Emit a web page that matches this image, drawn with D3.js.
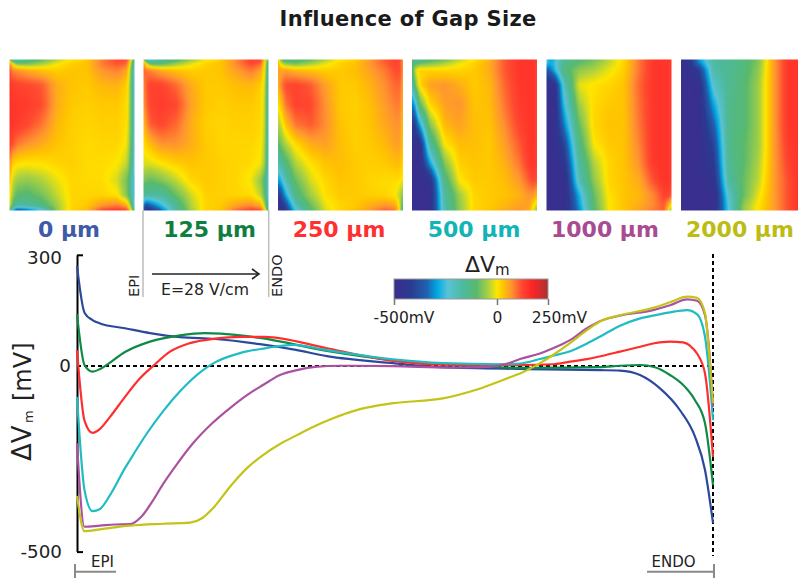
<!DOCTYPE html>
<html>
<head>
<meta charset="utf-8">
<script src="https://cdn.jsdelivr.net/npm/d3@7"></script>
<style>
  html, body { margin: 0; padding: 0; background: #fff; overflow: hidden; }
  svg { display: block; font-family: "DejaVu Sans", sans-serif; }
</style>
</head>
<body>
<div id="chart"></div>
<script>
// gap sizes and their label / curve colours
const gapLabels = ["0 µm", "125 µm", "250 µm", "500 µm", "1000 µm", "2000 µm"];
const labelColors = ["#3d5ba6", "#0e7f41", "#ff3030", "#12b5b5", "#a84b92", "#bcbc12"];
const curveColors = ["#2c4a9c", "#0f8a45", "#ff2e2e", "#1fbcc2", "#aa52a0", "#c3c318"];

// depth through the wall (0 = EPI, 636 = ENDO) and delta Vm in mV, per curve
const depth0 = [0, 7.5, 15.5, 23, 48, 73, 103, 138, 183, 216, 250, 316, 366, 450, 523, 543, 563, 583, 603, 618, 628, 636];
const vm0 = [270, 144, 124, 115, 102, 89, 78, 73, 59, 45, 27, 8, -3, -8, -11, -12, -24, -60, -119, -190, -280, -423];
const depth125 = [0, 7.5, 15.5, 23, 28, 48, 73, 103, 128, 163, 183, 250, 316, 366, 450, 523, 543, 563, 578, 593, 608, 618, 628, 636];
const vm125 = [140, 3, -15, -8, 0, 38, 66, 83, 89, 83, 76, 41, 16, 5, -5, -3, 1, 3, -3, -24, -56, -92, -154, -321];
const depth250 = [0, 7.5, 15.5, 23, 33, 48, 63, 76, 93, 113, 138, 163, 188, 250, 316, 366, 443, 476, 493, 510, 526, 543, 560, 576, 593, 606, 613, 620, 628, 636];
const vm250 = [43, -147, -180, -169, -137, -83, -33, 0, 39, 62, 74, 79, 79, 48, 14, 4, 3, 5, 12, 19, 28, 39, 50, 61, 66, 64, 55, 34, -20, -245];
const depth500 = [0, 7.5, 15.5, 23, 33, 48, 53, 70, 86, 103, 126, 138, 163, 188, 216, 250, 316, 366, 423, 443, 463, 476, 493, 510, 526, 543, 560, 576, 593, 610, 620, 628, 632, 636];
const vm500 = [-83, -334, -391, -385, -348, -275, -253, -181, -122, -68, -11, 10, 35, 48, 57, 43, 18, 8, 5, 7, 19, 28, 40, 61, 84, 109, 126, 136, 145, 151, 140, 79, -15, -146];
const depth1000 = [0, 7.5, 23, 38, 53, 65, 76, 86, 100, 116, 136, 153, 170, 186, 203, 220, 238, 263, 316, 373, 403, 423, 433, 443, 463, 476, 493, 510, 526, 543, 576, 593, 610, 620, 628, 632, 636];
const vm1000 = [-208, -433, -430, -427, -426, -404, -362, -318, -264, -208, -152, -113, -78, -51, -24, -11, -2, 1, 0, -4, -3, 2, 9, 19, 34, 48, 70, 102, 124, 136, 151, 164, 180, 176, 137, 48, -110];
const depth2000 = [0, 7.5, 23, 53, 86, 113, 125, 136, 153, 170, 186, 203, 220, 236, 253, 283, 316, 366, 400, 433, 443, 463, 476, 493, 510, 526, 543, 576, 593, 610, 620, 628, 632, 636];
const vm2000 = [-350, -445, -440, -430, -425, -422, -410, -383, -325, -275, -240, -210, -186, -164, -144, -116, -100, -87, -63, -30, -20, 8, 30, 62, 97, 124, 137, 157, 172, 187, 184, 143, 39, -100];

// heatmap sample positions (fraction of panel width / height)
const gridCols = [0, .02, .06, .14, .26, .38, .5, .62, .74, .86, .94, .98, 1];
const gridRows = [0, .02, .07, .17, .3, .43, .56, .69, .8, .9, .97, 1];

// delta Vm (mV) maps
const map0 = [
  [50, -300, -250, -150, -100, -50, 0, 25, 80, 120, 120, 0, -200],
  [100, 0, -100, -100, -60, -10, 20, 30, 90, 120, 110, -60, -280],
  [130, 80, 70, 50, 30, 20, 30, 30, 70, 85, 60, -100, -300],
  [150, 140, 130, 125, 110, 50, 30, 25, 40, 45, 20, -100, -300],
  [150, 150, 145, 140, 120, 50, 25, 20, 25, 25, 10, -100, -300],
  [150, 150, 140, 125, 90, 40, 20, 15, 20, 20, 5, -100, -300],
  [140, 120, 90, 70, 50, 30, 20, 10, 15, 15, -5, -110, -300],
  [100, 20, 5, 0, 5, 15, 20, 10, 10, 0, -30, -130, -300],
  [60, -20, -50, -60, -40, -10, 15, 10, 10, -20, -80, -170, -320],
  [40, -50, -100, -110, -80, -30, 15, 15, 15, 5, -70, -170, -330],
  [20, -100, -170, -170, -130, -50, 15, 25, 70, 90, 60, -100, -300],
  [50, -300, -400, -360, -260, -60, 20, 40, 130, 150, 130, 0, -200]
];
const map125 = [
  [50, -300, -250, -170, -130, -70, -10, 20, 70, 130, 130, 0, -100],
  [100, -30, -130, -130, -70, -20, 15, 30, 80, 130, 110, -30, -200],
  [110, 90, 80, 50, 30, 20, 25, 30, 60, 90, 60, -30, -250],
  [60, 110, 130, 130, 100, 50, 25, 25, 35, 40, 20, -40, -260],
  [50, 100, 130, 140, 125, 60, 25, 20, 25, 25, 15, -50, -270],
  [20, 70, 110, 125, 100, 50, 20, 15, 20, 20, 10, -50, -270],
  [0, 20, 40, 70, 70, 50, 25, 15, 15, 15, 5, -60, -270],
  [-10, -20, -15, 0, 20, 30, 25, 20, 15, 10, -5, -70, -270],
  [-70, -80, -90, -70, -30, 15, 25, 20, 15, -5, -60, -130, -280],
  [-150, -170, -170, -170, -90, -25, 20, 20, 15, 10, -30, -120, -290],
  [-300, -400, -350, -270, -150, -40, 15, 25, 60, 80, 50, -70, -250],
  [-350, -470, -450, -350, -170, -50, 20, 30, 100, 140, 130, 0, -200]
];
const map250 = [
  [80, -100, -150, -120, -100, -50, 0, 20, 60, 110, 130, 120, 50],
  [60, -20, -80, -100, -60, -15, 15, 30, 70, 110, 130, 120, 40],
  [70, 50, 60, 40, 30, 20, 25, 35, 60, 90, 120, 120, 50],
  [30, 80, 120, 130, 110, 60, 25, 25, 45, 75, 100, 100, 40],
  [0, 20, 90, 130, 125, 70, 25, 20, 35, 65, 85, 85, 30],
  [-40, -30, 30, 90, 110, 75, 30, 20, 30, 55, 70, 70, 20],
  [-100, -80, -40, 10, 50, 60, 35, 20, 25, 40, 60, 60, 15],
  [-200, -170, -120, -40, 5, 30, 35, 25, 20, 25, 35, 35, 5],
  [-300, -280, -190, -90, -20, 15, 30, 25, 15, 10, 10, 5, -10],
  [-430, -400, -290, -130, -50, 5, 25, 25, 20, 15, 0, -40, -80],
  [-480, -470, -400, -200, -90, -10, 15, 25, 50, 70, 60, -30, -150],
  [-490, -480, -430, -260, -110, -20, 20, 35, 70, 110, 90, -20, -200]
];
const map500 = [
  [-100, -200, -180, -120, -90, -40, 5, 40, 110, 150, 150, 150, 120],
  [-120, -120, -100, -80, -50, -10, 15, 50, 110, 150, 150, 150, 120],
  [-150, -30, 20, 15, 15, 15, 25, 50, 110, 150, 150, 150, 120],
  [-230, -100, 10, 60, 70, 50, 25, 40, 100, 145, 150, 150, 120],
  [-330, -300, -100, 10, 60, 70, 30, 35, 90, 140, 150, 150, 120],
  [-420, -420, -290, -70, 40, 60, 35, 30, 75, 130, 150, 150, 120],
  [-480, -480, -470, -170, 0, 35, 35, 25, 60, 110, 150, 150, 120],
  [-490, -490, -490, -300, -70, 20, 30, 25, 45, 90, 140, 150, 120],
  [-490, -490, -490, -470, -130, 0, 25, 25, 35, 65, 110, 130, 100],
  [-490, -490, -490, -490, -170, -50, 15, 25, 30, 45, 70, 60, 30],
  [-490, -490, -490, -490, -180, -60, 15, 25, 40, 60, 60, -10, -30],
  [-490, -490, -490, -490, -190, -60, 15, 30, 50, 70, 50, -30, -80]
];
const map1000 = [
  [-200, -300, -280, -150, -100, -80, -30, 15, 90, 150, 150, 150, 130],
  [-220, -280, -260, -140, -100, -70, -30, 15, 90, 150, 150, 150, 130],
  [-350, -350, -280, -120, -60, -40, -10, 20, 90, 150, 150, 150, 130],
  [-480, -480, -480, -210, -10, 5, 15, 30, 100, 150, 150, 150, 130],
  [-490, -490, -490, -260, -50, 10, 25, 30, 95, 150, 150, 150, 130],
  [-490, -490, -490, -320, -90, 15, 30, 30, 90, 150, 150, 150, 130],
  [-490, -490, -490, -400, -130, 0, 25, 30, 80, 150, 150, 150, 130],
  [-490, -490, -490, -450, -170, -40, 15, 30, 70, 145, 150, 150, 130],
  [-490, -490, -490, -490, -200, -60, 15, 30, 50, 120, 150, 150, 130],
  [-490, -490, -490, -490, -280, -90, 5, 30, 40, 80, 130, 130, 100],
  [-490, -490, -490, -490, -300, -100, 0, 30, 50, 80, 110, 40, -40],
  [-490, -490, -490, -490, -320, -110, 0, 30, 60, 90, 110, 0, -100]
];
const map2000 = [
  [-400, -480, -450, -300, -170, -150, -120, -70, 60, 150, 150, 150, 150],
  [-420, -480, -460, -320, -170, -150, -120, -70, 60, 150, 150, 150, 150],
  [-490, -490, -480, -420, -180, -150, -120, -60, 60, 150, 150, 150, 150],
  [-490, -490, -490, -480, -220, -150, -110, -50, 60, 150, 150, 150, 150],
  [-490, -490, -490, -490, -290, -140, -110, -50, 60, 150, 150, 150, 150],
  [-490, -490, -490, -490, -350, -140, -110, -50, 60, 150, 150, 150, 150],
  [-490, -490, -490, -490, -400, -140, -100, -50, 60, 140, 150, 150, 150],
  [-490, -490, -490, -490, -430, -150, -100, -40, 60, 130, 150, 150, 150],
  [-490, -490, -490, -490, -460, -170, -90, -30, 60, 120, 150, 150, 150],
  [-490, -490, -490, -490, -490, -220, -90, -10, 60, 120, 150, 150, 150],
  [-490, -490, -490, -490, -490, -240, -60, 5, 60, 120, 150, 150, 150],
  [-490, -490, -490, -490, -490, -240, -60, 5, 60, 120, 150, 150, 150]
];

const yTicks = [300, 0, -500];
const barTicks = [-500, 0, 250];
const barTickLabels = ["-500mV", "0", "250mV"];

// colour map of the colour bar
const colorStops = [-500, -420, -340, -290, -240, -160, -100, -40, 0, 30, 70, 120, 170, 210, 250];
const colorRange = ["#3a2d8e", "#2b3a90", "#1f62b0", "#00a8e2", "#58c3d8", "#4db99a", "#58b96e", "#aed23e", "#ffe600", "#ffc400", "#ff9530", "#ff4a30", "#ff2626", "#d82a2a", "#a83232"];
const vmColor = d3.scaleLinear().domain(colorStops).range(colorRange).clamp(true);

const width = 798, height = 578;
const svg = d3.select("#chart").append("svg")
  .attr("width", width).attr("height", height)
  .attr("viewBox", `0 0 ${width} ${height}`);

svg.append("text").attr("x", 408).attr("y", 26)
  .attr("text-anchor", "middle")
  .attr("font-size", 21).attr("font-weight", "bold").attr("letter-spacing", 0.3).attr("fill", "#1a1a1a")
  .text("Influence of Gap Size");

// 1. heatmap panels
const panelW = 125, panelH = 151, panelY = 59.5;
const panelX = [9.5, 143.5, 278, 412, 546.5, 681];
const labelX = [69, 209.5, 339, 474, 605, 740];
const maps = [map0, map125, map250, map500, map1000, map2000];

function renderMap(grid) {
  const colIdx = d3.scaleLinear().domain(gridCols).range(d3.range(gridCols.length));
  const rowIdx = d3.scaleLinear().domain(gridRows).range(d3.range(gridRows.length));
  const w = panelW, h = panelH;
  let field = new Float32Array(w * h);
  for (let j = 0; j < h; j++) {
    const r = rowIdx((j + .5) / h), r0 = Math.min(Math.floor(r), gridRows.length - 2), fr = r - r0;
    for (let i = 0; i < w; i++) {
      const c = colIdx((i + .5) / w), c0 = Math.min(Math.floor(c), gridCols.length - 2), fc = c - c0;
      field[j * w + i] = (grid[r0][c0] * (1 - fc) + grid[r0][c0 + 1] * fc) * (1 - fr)
        + (grid[r0 + 1][c0] * (1 - fc) + grid[r0 + 1][c0 + 1] * fc) * fr;
    }
  }
  // soften the grid facets
  for (let pass = 0; pass < 2; pass++) {
    const next = new Float32Array(w * h);
    for (let j = 0; j < h; j++) {
      for (let i = 0; i < w; i++) {
        let sum = 0;
        for (let dj = -1; dj <= 1; dj++) {
          for (let di = -1; di <= 1; di++) {
            const jj = Math.max(0, Math.min(h - 1, j + dj)), ii = Math.max(0, Math.min(w - 1, i + di));
            sum += field[jj * w + ii];
          }
        }
        next[j * w + i] = sum / 9;
      }
    }
    field = next;
  }
  const canvas = document.createElement("canvas");
  canvas.width = w; canvas.height = h;
  const ctx = canvas.getContext("2d");
  const img = ctx.createImageData(w, h);
  field.forEach((v, k) => {
    const col = d3.rgb(vmColor(v));
    img.data[k * 4] = col.r; img.data[k * 4 + 1] = col.g; img.data[k * 4 + 2] = col.b; img.data[k * 4 + 3] = 255;
  });
  ctx.putImageData(img, 0, 0);
  return canvas.toDataURL();
}

svg.append("g").selectAll("image").data(maps).enter().append("image")
  .attr("x", (d, i) => panelX[i]).attr("y", panelY)
  .attr("width", panelW).attr("height", panelH)
  .attr("href", d => renderMap(d));

svg.append("g").selectAll("text").data(gapLabels).enter().append("text")
  .attr("x", (d, i) => labelX[i]).attr("y", 237)
  .attr("text-anchor", "middle")
  .attr("font-size", 22).attr("font-weight", "bold")
  .attr("fill", (d, i) => labelColors[i])
  .text(d => d);

// 2. EPI / ENDO guide and field arrow
const guide = svg.append("g");
guide.selectAll("line").data([143, 268.7]).enter().append("line")
  .attr("x1", d => d).attr("x2", d => d).attr("y1", 210).attr("y2", 297)
  .attr("stroke", "#bdbdbd").attr("stroke-width", 1.5);
function sideLabel(x, text) {
  svg.append("text").attr("transform", `translate(${x},297) rotate(-90)`)
    .attr("font-size", 14.5).attr("fill", "#222").text(text);
}
sideLabel(139, "EPI");
sideLabel(282, "ENDO");

svg.append("path").attr("d", d3.line()([[152, 274], [259, 274]]))
  .attr("stroke", "#222").attr("stroke-width", 1.6).attr("fill", "none");
svg.append("path").attr("d", d3.line()([[252, 269], [259, 274], [252, 279]]))
  .attr("stroke", "#222").attr("stroke-width", 1.6).attr("fill", "none");
svg.append("text").attr("x", 205).attr("y", 295).attr("text-anchor", "middle")
  .attr("font-size", 15.7).attr("fill", "#222").text("E=28 V/cm");

// 3. colour bar
const barX = d3.scaleLinear().domain(barTicks).range([394, 497, 548]);
const defs = svg.append("defs");
const grad = defs.append("linearGradient").attr("id", "barGrad");
grad.selectAll("stop").data(colorStops).enter().append("stop")
  .attr("offset", d => (barX(d) - 394) / (548 - 394))
  .attr("stop-color", d => vmColor(d));
svg.append("rect").attr("x", barX(-500)).attr("y", 279)
  .attr("width", barX(250) - barX(-500)).attr("height", 20)
  .attr("fill", "url(#barGrad)").attr("stroke", "#999").attr("stroke-width", 1);
const barAxis = svg.append("g").attr("transform", "translate(0,299)")
  .call(d3.axisBottom(barX).tickValues(barTicks).tickSize(6).tickPadding(7)
    .tickFormat((d, i) => barTickLabels[i]));
barAxis.select(".domain").remove();
barAxis.selectAll("line").attr("stroke", "#777").attr("stroke-width", 1.5);
barAxis.selectAll("text").attr("font-size", 15.5).attr("fill", "#222")
  .attr("font-family", "DejaVu Sans")
  .attr("dx", d => d === -500 ? 9.5 : d === 250 ? 11 : 0);
svg.append("text").attr("x", 465).attr("y", 272).attr("font-size", 22).attr("fill", "#222").text("ΔV");
svg.append("text").attr("x", 495).attr("y", 275).attr("font-size", 15).attr("fill", "#222").text("m");

// 4. line chart
const x = d3.scaleLinear().domain([0, 636]).range([77, 713]);
const y = d3.scaleLinear().domain([-500, 300]).range([551.6, 254.8]);

const yAxis = svg.append("g").attr("transform", `translate(${x(0)},0)`)
  .call(d3.axisLeft(y).tickValues(yTicks).tickSizeInner(-6).tickSizeOuter(0).tickPadding(15)
    .tickFormat(d => String(d)));
yAxis.select(".domain").attr("stroke", "#000").attr("stroke-width", 2);
yAxis.selectAll("line").attr("stroke", "#000").attr("stroke-width", 2)
  .attr("opacity", d => d === 0 ? 0 : 1);
yAxis.selectAll("text").attr("font-size", 18.3).attr("fill", "#222")
  .attr("font-family", "DejaVu Sans")
  .attr("dx", d => d === 0 ? 9 : 0)
  .attr("dy", d => d === 300 ? "0.48em" : "0.3em");

svg.append("line").attr("x1", x(0)).attr("x2", x(636)).attr("y1", y(0)).attr("y2", y(0))
  .attr("stroke", "#000").attr("stroke-width", 2).attr("stroke-dasharray", "4 3");
svg.append("line").attr("x1", x(636)).attr("x2", x(636)).attr("y1", 254).attr("y2", 556)
  .attr("stroke", "#000").attr("stroke-width", 2).attr("stroke-dasharray", "4 3");

const curves = [
  [depth0, vm0], [depth125, vm125], [depth250, vm250],
  [depth500, vm500], [depth1000, vm1000], [depth2000, vm2000]
];
const line = d3.line().x(d => x(d[0])).y(d => y(d[1])).curve(d3.curveMonotoneX);
svg.append("g").selectAll("path").data(curves).enter().append("path")
  .attr("d", d => line(d3.zip(d[0], d[1])))
  .attr("fill", "none").attr("stroke-width", 2.2).attr("stroke-linejoin", "round")
  .attr("stroke", (d, i) => curveColors[i]);

// y axis title, written piece by piece like the original
svg.append("text").attr("transform", "translate(31,461) rotate(-90)")
  .attr("font-size", 26).attr("fill", "#222").text("ΔV");
svg.append("text").attr("transform", "translate(33,423) rotate(-90)")
  .attr("font-size", 13).attr("fill", "#222").text("m");
svg.append("text").attr("transform", "translate(31,401) rotate(-90)")
  .attr("font-size", 24).attr("fill", "#222").text("[mV]");

// EPI / ENDO brackets under the chart
const bracket = svg.append("g").attr("stroke", "#8a8a8a").attr("stroke-width", 2).attr("fill", "none");
bracket.append("path").attr("d", d3.line()([[75, 564], [75, 578]]));
bracket.append("path").attr("d", d3.line()([[75, 571.7], [116, 571.7]]));
bracket.append("path").attr("d", d3.line()([[714, 564], [714, 578]]));
bracket.append("path").attr("d", d3.line()([[647, 571.7], [714, 571.7]]));
svg.append("text").attr("x", 91).attr("y", 567).attr("font-size", 15).attr("fill", "#222").text("EPI");
svg.append("text").attr("x", 651.5).attr("y", 567).attr("font-size", 15).attr("fill", "#222").text("ENDO");
</script>
</body>
</html>
